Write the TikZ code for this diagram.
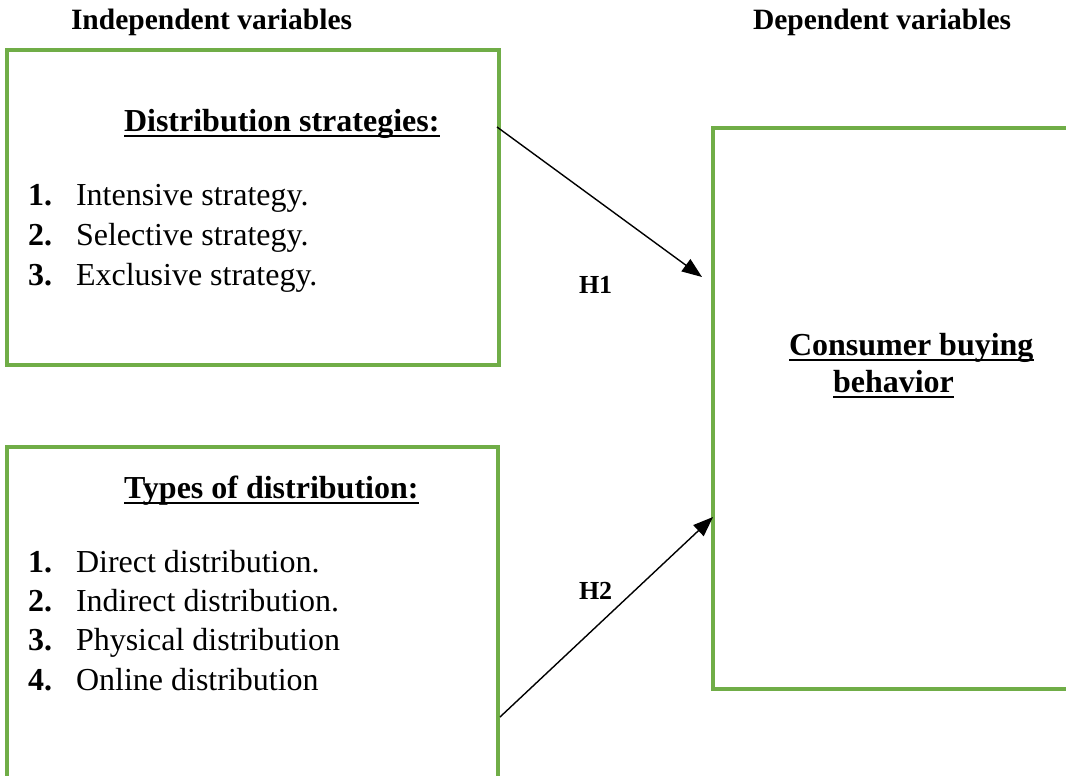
\documentclass[tikz,border=0pt]{standalone}
\usepackage{fontspec}
\setmainfont{Liberation Serif}
\usetikzlibrary{arrows.meta,calc}
\definecolor{boxgreen}{HTML}{70AD47}
\begin{document}
\begin{tikzpicture}[x=1pt,y=-1pt,
  gbox/.style={draw=boxgreen,line width=3.2pt,rectangle,anchor=north west,inner sep=0pt,outer sep=0pt},
  txt/.style={anchor=base west,inner sep=0pt,outer sep=0pt,font=\fontsize{32}{38}\selectfont},
  hdtext/.style={txt,font=\fontsize{32}{38}\selectfont\bfseries},
  coltext/.style={txt,font=\fontsize{29.5}{35}\selectfont\bfseries},
  hyptext/.style={txt,font=\fontsize{26}{31}\selectfont\bfseries},
  numtext/.style={txt,font=\fontsize{32}{38}\selectfont\bfseries},
  uline/.style={line width=2.2pt},
  arr/.style={-{Triangle[length=20pt,width=15pt]},line width=1.4pt}]
\useasboundingbox (0,0) rectangle (1066,776);
\clip (0,0) rectangle (1066,776);
\fill[white] (0,0) rectangle (1066,776);

% column titles
\node[coltext] (ind) at (71,30) {Independent variables};
\node[coltext] (dep) at (753,30) {Dependent variables};

% boxes
\node[gbox,minimum width=492pt,minimum height=315pt] (b1) at (7,50) {};
\node[gbox,minimum width=491pt,minimum height=353pt] (b2) at (7,447) {};
\node[gbox,minimum width=367pt,minimum height=561pt] (b3) at (713,128) {};

% box 1 content
\node[hdtext] (h1) at (124,131) {Distribution strategies:};
\draw[uline] ($(h1.base west)+(0,5)$) -- ($(h1.base east)+(0,5)$);
\node[numtext] (n11) at (28,205) {1.};
\node[txt] (t11) at (76,205) {Intensive strategy.};
\node[numtext] (n12) at (28,245) {2.};
\node[txt] (t12) at (76,245) {Selective strategy.};
\node[numtext] (n13) at (28,285) {3.};
\node[txt] (t13) at (76,285) {Exclusive strategy.};

% box 2 content
\node[hdtext] (h2) at (124,498) {Types of distribution:};
\draw[uline] ($(h2.base west)+(0,5)$) -- ($(h2.base east)+(0,5)$);
\node[numtext] (n21) at (28,572) {1.};
\node[txt] (t21) at (76,572) {Direct distribution.};
\node[numtext] (n22) at (28,611.5) {2.};
\node[txt] (t22) at (76,611.5) {Indirect distribution.};
\node[numtext] (n23) at (28,650.5) {3.};
\node[txt] (t23) at (76,650.5) {Physical distribution};
\node[numtext] (n24) at (28,690) {4.};
\node[txt] (t24) at (76,690) {Online distribution};

% box 3 content
\node[hdtext] (c1) at (789,355) {Consumer buying};
\draw[uline] ($(c1.base west)+(0,5)$) -- ($(c1.base east)+(0,5)$);
\node[hdtext] (c2) at (833,392) {behavior};
\draw[uline] ($(c2.base west)+(0,5)$) -- ($(c2.base east)+(0,5)$);

% hypotheses
\node[hyptext] (hy1) at (579,293) {H1};
\node[hyptext] (hy2) at (579,599) {H2};

% arrows
\draw[arr] ($(b1.north east)+(-2,77)$) -- ($(b3.north west)+(-11,149)$);
\draw[arr] ($(b2.north east)+(2,270)$) -- ($(b3.north west)+(0,389)$);
\end{tikzpicture}
\end{document}
